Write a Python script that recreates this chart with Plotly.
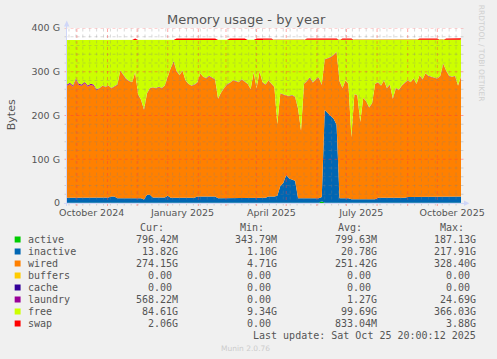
import plotly.graph_objects as go
import pandas as pd

# ---------------- data (GB, one sample every 3 days) ----------------
dates = pd.date_range("2024-09-21", periods=134, freq="3D")

active = [
    0.8, 0.8, 0.8, 0.8, 0.8, 0.8, 0.8, 0.8, 0.8, 0.8,
    0.8, 0.8, 0.8, 0.8, 0.8, 0.8, 0.8, 0.8, 0.8, 0.8,
    0.8, 0.8, 0.8, 0.8, 0.8, 0.8, 0.8, 0.8, 0.8, 0.8,
    0.8, 0.8, 0.8, 0.8, 0.8, 0.8, 0.8, 0.8, 0.8, 0.8,
    0.8, 0.8, 0.8, 0.8, 0.8, 0.8, 0.8, 0.8, 0.8, 0.8,
    0.8, 0.8, 0.8, 0.8, 0.8, 0.8, 0.8, 0.8, 0.8, 0.8,
    0.8, 0.8, 0.8, 0.8, 0.8, 0.8, 0.8, 0.8, 0.8, 0.8,
    0.8, 0.8, 0.8, 0.8, 0.8, 0.8, 0.8, 0.8, 0.8, 0.8,
    0.8, 0.8, 0.8, 0.8, 0.8, 0.8, 4.0, 0.8, 0.8, 0.8,
    0.8, 0.8, 0.8, 0.8, 0.8, 0.8, 0.8, 0.8, 0.8, 0.8,
    0.8, 0.8, 0.8, 0.8, 0.8, 0.8, 0.8, 0.8, 0.8, 0.8,
    0.8, 0.8, 0.8, 0.8, 0.8, 0.8, 0.8, 0.8, 0.8, 0.8,
    0.8, 0.8, 0.8, 0.8, 0.8, 0.8, 0.8, 0.8, 0.8, 0.8,
    0.8, 0.8, 0.8, 0.8,
]

inactive = [
    11, 11, 11, 11, 11, 11, 11, 11, 11, 11,
    11, 11, 11, 11, 12, 14, 14, 10, 10, 10,
    10, 10, 10, 10, 10, 10, 7, 18, 18, 12,
    12, 12, 12, 12, 16, 11, 11, 11, 11, 11,
    11, 11, 11, 11, 14, 14, 14, 14, 14, 14,
    14, 10, 10, 10, 10, 10, 10, 10, 10, 10,
    10, 11, 11, 11, 11, 11, 11, 11, 14, 14,
    14, 16, 38, 45, 63, 55, 52, 50, 10, 10,
    10, 10, 10, 10, 10, 10, 10, 212, 205, 198,
    192, 178, 10, 10, 10, 10, 8, 8, 8, 8,
    8, 8, 8, 8, 8, 11, 11, 11, 11, 11,
    11, 11, 11, 11, 11, 13, 13, 13, 13, 13,
    13, 13, 13, 13, 13, 13, 13, 13, 13, 13,
    13, 13, 13, 14,
]

wired = [
    256, 260, 254, 270, 258, 256, 262, 254, 258, 256,
    246, 250, 256, 253, 255, 247, 251, 259, 291, 281,
    272, 267, 265, 287, 237, 224, 205, 231, 243, 251,
    249, 252, 249, 255, 273, 296, 310, 288, 280, 290,
    268, 260, 256, 258, 260, 281, 273, 270, 275, 271,
    267, 227, 241, 251, 259, 263, 269, 267, 265, 271,
    265, 260, 248, 286, 250, 288, 264, 258, 265, 257,
    250, 163, 211, 202, 181, 188, 193, 191, 204, 154,
    261, 267, 274, 264, 271, 275, 256, 115, 124, 134,
    145, 166, 267, 251, 269, 261, 141, 239, 237, 176,
    231, 223, 209, 219, 263, 263, 256, 268, 250, 258,
    226, 250, 246, 256, 262, 266, 262, 270, 258, 278,
    268, 282, 276, 274, 272, 270, 276, 304, 288, 276,
    274, 276, 254, 274,
]

laundry = [
    3, 3, 3, 3, 3, 3, 3, 3, 3, 3,
    2, 1, 1, 1, 1, 1, 1, 1, 1, 1,
    1, 1, 1, 1, 1, 1, 1, 1, 1, 1,
    1, 1, 1, 1, 1, 1, 2, 2, 1, 1,
    1, 1, 1, 1, 1, 1, 1, 1, 1, 1,
    1, 1, 1, 1, 1, 1, 1, 1, 1, 1,
    1, 1, 1, 1, 1, 1, 1, 1, 1, 1,
    1, 1, 1, 1, 1, 1, 1, 1, 1, 1,
    1, 1, 2, 1, 1, 1, 1, 1, 1, 1,
    1, 1, 1, 1, 1, 1, 1, 1, 1, 1,
    1, 1, 1, 1, 1, 1, 1, 1, 1, 1,
    1, 1, 1, 1, 1, 1, 1, 1, 1, 1,
    1, 1, 1, 1, 1, 1, 1, 1, 1, 1,
    1, 1, 1, 1,
]

free = [
    102, 98, 104, 88, 100, 102, 96, 104, 100, 102,
    113, 110, 104, 107, 104, 110, 106, 102, 70, 80,
    89, 94, 96, 74, 124, 137, 159, 122, 110, 108,
    110, 107, 110, 104, 82, 64, 49, 71, 80, 70,
    92, 100, 104, 102, 97, 76, 84, 87, 82, 86,
    90, 134, 120, 110, 102, 98, 92, 94, 96, 90,
    96, 100, 112, 74, 110, 72, 96, 102, 92, 100,
    107, 192, 122, 124, 127, 128, 126, 130, 157, 207,
    100, 94, 86, 97, 90, 86, 102, 44, 42, 39,
    34, 27, 94, 110, 92, 100, 222, 124, 126, 187,
    132, 140, 154, 144, 100, 97, 104, 92, 110, 102,
    134, 110, 114, 104, 98, 92, 96, 88, 100, 80,
    90, 76, 82, 84, 86, 88, 82, 54, 70, 82,
    84, 82, 104, 84,
]

swap = [
    0, 0, 0, 0, 0, 0, 0, 0, 0, 0,
    0, 0, 0, 0, 0, 0, 0, 0, 0, 0,
    0, 0, 0, 3, 0, 0, 0, 0, 0, 0,
    0, 0, 0, 0, 0, 0, 0, 3, 3, 3,
    3, 3, 3, 3, 3, 3, 3, 3, 3, 3,
    3, 0, 0, 0, 0, 3, 3, 3, 3, 3,
    3, 0, 0, 0, 3, 3, 3, 3, 3, 3,
    0, 0, 0, 0, 0, 0, 0, 0, 0, 0,
    0, 3, 3, 3, 3, 3, 3, 3, 3, 3,
    3, 3, 0, 3, 3, 3, 3, 0, 0, 0,
    0, 0, 0, 0, 0, 0, 0, 0, 0, 0,
    0, 0, 0, 0, 0, 0, 0, 0, 0, 3,
    3, 3, 3, 3, 3, 3, 0, 0, 3, 3,
    3, 3, 3, 3,
]

# legend table
names = ["active", "inactive", "wired", "buffers", "cache", "laundry", "free", "swap"]
colors = ["#00CC00", "#0066B3", "#FF8000", "#FFCC00", "#330099", "#990099", "#CCFF00", "#FF0000"]
cur_vals = ["796.42M", "13.82G", "274.15G", "0.00", "0.00", "568.22M", "84.61G", "2.06G"]
min_vals = ["343.79M", "1.10G", "4.71G", "0.00", "0.00", "0.00", "9.34G", "0.00"]
avg_vals = ["799.63M", "20.78G", "251.42G", "0.00", "0.00", "1.27G", "99.69G", "833.04M"]
max_vals = ["187.13G", "217.91G", "328.40G", "0.00", "0.00", "24.69G", "366.03G", "3.88G"]
headers = ["Cur:", "Min:", "Avg:", "Max:"]

x_tick_vals = ["2024-10-16", "2025-01-16", "2025-04-16", "2025-07-16", "2025-10-16"]
x_tick_text = ["October 2024", "January 2025", "April 2025", "July 2025", "October 2025"]
y_tick_vals = [0, 100, 200, 300, 400]
y_tick_text = ["0", "100 G", "200 G", "300 G", "400 G"]

# ---------------- layout helpers (pixel -> paper) ----------------
W, H = 497, 359
L, R, T, B = 67, 466, 28, 203


def px(x):
    return (x - L) / (R - L)


def py(y):
    return (B - y) / (B - T)


fig = go.Figure()
series = [
    ("active", active, colors[0]),
    ("inactive", inactive, colors[1]),
    ("wired", wired, colors[2]),
    ("laundry", laundry, colors[5]),
    ("free", free, colors[6]),
    ("swap", swap, colors[7]),
]
for name, vals, col in series:
    fig.add_trace(go.Scatter(
        x=dates, y=vals, name=name, mode="lines", stackgroup="mem",
        line=dict(width=0, color=col), fillcolor=col,
        showlegend=False, hoverinfo="skip",
    ))

shapes = []
minor_col = "rgba(130,130,130,0.3)"
major_col = "rgba(255,60,60,0.45)"
months = pd.date_range("2024-10-01", "2025-10-01", freq="MS")
weeks = pd.date_range("2024-09-23", "2025-10-25", freq="7D")
for d in weeks:
    if d.day == 1:
        continue
    shapes.append(dict(type="line", xref="x", yref="paper", x0=d, x1=d,
                       y0=py(205.5), y1=py(T), layer="above",
                       line=dict(color=minor_col, width=1, dash="dot")))
for d in months:
    shapes.append(dict(type="line", xref="x", yref="paper", x0=d, x1=d,
                       y0=py(206), y1=py(T), layer="above",
                       line=dict(color=major_col, width=1, dash="dot")))
for v in range(20, 401, 20):
    shapes.append(dict(type="line", xref="paper", yref="y", x0=px(64.5), x1=px(468.5),
                       y0=v, y1=v, layer="above",
                       line=dict(color=major_col if v % 100 == 0 else minor_col, width=1, dash="dot")))
axis_col = "#CFD6F8"
shapes.append(dict(type="line", xref="paper", yref="paper", x0=px(64), x1=px(470),
                   y0=py(203.5), y1=py(203.5), layer="above", line=dict(color=axis_col, width=1)))
shapes.append(dict(type="line", xref="paper", yref="paper", x0=px(66.5), x1=px(66.5),
                   y0=py(206), y1=py(22), layer="above", line=dict(color=axis_col, width=1)))
shapes.append(dict(type="path", xref="paper", yref="paper", layer="above",
                   path=f"M {px(64)},{py(26.5)} L {px(69.5)},{py(26.5)} L {px(66.75)},{py(20.5)} Z",
                   fillcolor=axis_col, line=dict(width=0)))
shapes.append(dict(type="path", xref="paper", yref="paper", layer="above",
                   path=f"M {px(469)},{py(200.5)} L {px(469)},{py(206)} L {px(474.5)},{py(203.25)} Z",
                   fillcolor=axis_col, line=dict(width=0)))

annotations = []
txt = "#555555"
mono = "DejaVu Sans Mono"


def note(text, x, y, xanchor="left", size=10, color=txt, family=mono, angle=0):
    annotations.append(dict(text=text, x=px(x), y=py(y), xref="paper", yref="paper",
                            xanchor=xanchor, yanchor="middle", showarrow=False,
                            borderpad=0, textangle=angle,
                            font=dict(family=family, size=size, color=color)))


note("Memory usage - by year", 248.5, 19, "center", 13, txt, "DejaVu Sans")
note("Bytes", 10.5, 115, "center", 11, txt, "DejaVu Sans", -90)
note("RRDTOOL / TOBI OETIKER", 487, 53.5, "center", 7.5, "#CFCFCF", "DejaVu Sans", 90)

header_right = [166.7, 268, 366.7, 470]
value_right = [180.5, 281, 381.7, 482.3]
for j, h in enumerate(headers):
    note(h, header_right[j], 227.5, "right")
for k, name in enumerate(names):
    yc = 239.5 + 12 * k
    shapes.append(dict(type="rect", xref="paper", yref="paper",
                       x0=px(14), x1=px(20), y0=py(yc + 3), y1=py(yc - 3),
                       fillcolor=colors[k], line=dict(width=0), layer="above"))
    note(name, 26, yc)
    for j, col in enumerate([cur_vals, min_vals, avg_vals, max_vals]):
        v = col[k]
        edge = value_right[j] - (6 if v[-1].isdigit() else 0)
        note(v, edge, yc, "right")
note("Last update: Sat Oct 25 20:00:12 2025", 482.3, 335.5, "right")
note("Munin 2.0.76", 248, 348.5, "center", 7.5, "#CCCCCC", "DejaVu Sans")

fig.update_layout(
    width=W, height=H,
    margin=dict(l=L, r=W - R, t=T, b=H - B, pad=0),
    paper_bgcolor="#F0F0F0", plot_bgcolor="#FFFFFF",
    showlegend=False,
    font=dict(family="DejaVu Sans", color=txt),
    shapes=shapes, annotations=annotations,
    xaxis=dict(type="date", range=["2024-09-21", "2025-10-25"],
               tickvals=x_tick_vals, ticktext=x_tick_text,
               showgrid=False, zeroline=False, showline=False, ticks="",
               tickfont=dict(size=9.5, color=txt), ticklabelstandoff=2),
    yaxis=dict(range=[0, 400], tickvals=y_tick_vals, ticktext=y_tick_text,
               showgrid=False, zeroline=False, showline=False, ticks="",
               tickfont=dict(size=9.5, color=txt), ticklabelstandoff=6),
)

fig.write_html("out.html")
